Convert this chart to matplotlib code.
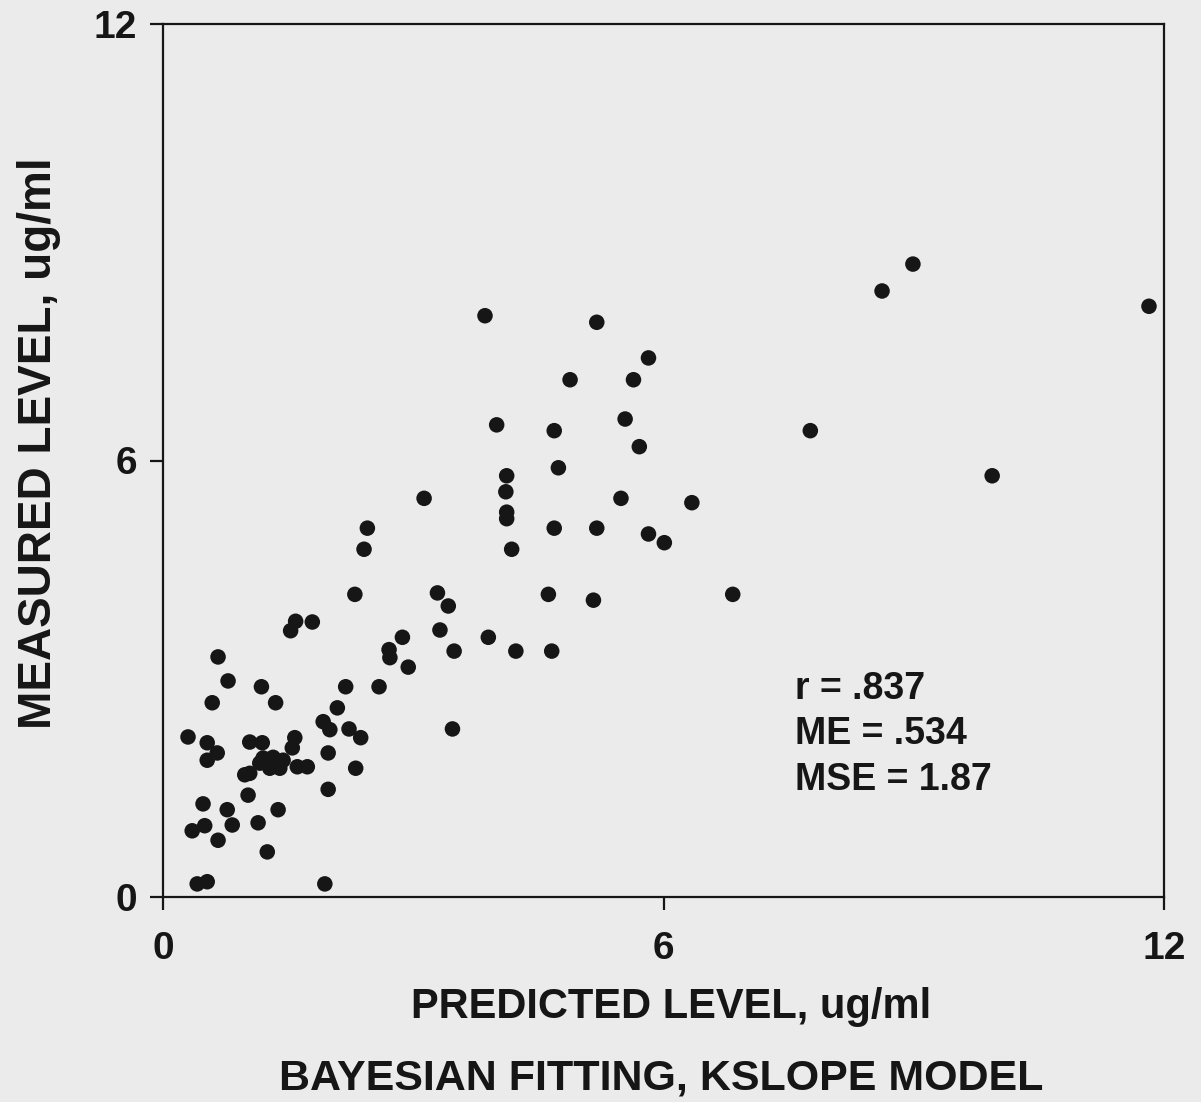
import matplotlib
matplotlib.use("Agg")
import matplotlib.pyplot as plt

plt.rcParams['font.family'] = ['Liberation Sans', 'DejaVu Sans']

# Predicted (x) and measured (y) levels, ug/ml
predicted = [
    3.86, 5.20, 5.82, 4.88, 5.64, 5.54, 4.00, 4.69, 5.71, 4.74,
    4.12, 4.11, 4.12, 4.12, 3.13, 5.49, 6.34, 2.45, 2.41, 4.69,
    5.20, 5.82, 6.01, 4.18, 2.30, 3.29, 3.42, 4.62, 5.16, 6.83,
    3.32, 2.87, 2.71, 2.72, 3.90, 3.49, 4.23, 4.66, 2.94, 1.79,
    1.59, 1.53, 8.62, 8.99, 11.82, 7.76, 9.94,
    0.66, 0.78, 0.59, 1.18, 1.35, 2.19, 2.59, 2.09, 1.92, 2.00,
    2.23, 2.37, 3.47, 0.30, 0.53, 0.65, 0.53, 1.98, 2.31, 1.98,
    1.04, 1.19, 1.58, 1.55, 1.32, 1.20, 1.44, 1.16, 1.73, 1.61,
    1.40, 1.28, 1.04, 0.98,
    1.02, 1.38, 0.48, 0.77, 0.83, 0.50, 0.35, 0.66, 1.14, 1.25,
    0.41, 0.53, 1.94,
]
measured = [
    7.99, 7.90, 7.41, 7.11, 7.11, 6.57, 6.49, 6.41, 6.19, 5.90,
    5.79, 5.57, 5.29, 5.20, 5.48, 5.48, 5.42, 5.07, 4.78, 5.07,
    5.07, 4.99, 4.87, 4.78, 4.16, 4.18, 4.00, 4.16, 4.08, 4.16,
    3.67, 3.57, 3.40, 3.29, 3.57, 3.38, 3.38, 3.38, 3.16, 3.78,
    3.79, 3.66, 8.33, 8.70, 8.12, 6.41, 5.79,
    3.30, 2.97, 2.67, 2.89, 2.67, 2.89, 2.89, 2.60, 2.41, 2.30,
    2.31, 2.19, 2.31, 2.20, 2.12, 1.98, 1.88, 1.98, 1.77, 1.48,
    2.13, 2.12, 2.19, 2.05, 1.92, 1.91, 1.88, 1.84, 1.79, 1.79,
    1.77, 1.77, 1.70, 1.68,
    1.40, 1.20, 1.28, 1.20, 0.99, 0.98, 0.91, 0.78, 1.02, 0.62,
    0.18, 0.21, 0.18,
]

ticks = [0, 6, 12]
xtick_labels = ["0", "6", "12"]
ytick_labels = ["0", "6", "12"]
stats = ["r = .837", "ME = .534", "MSE = 1.87"]

bg = '#ebebeb'
ink = '#161616'
fig = plt.figure(figsize=(12.01, 11.02), dpi=100, facecolor=bg)
ax = fig.add_axes([163/1201, 1 - 897/1102, (1164 - 163)/1201, (897 - 24)/1102])
ax.set_facecolor(bg)

ax.scatter(predicted, measured, s=125, color=ink, edgecolors='none', zorder=3)

ax.set_xlim(0, 12)
ax.set_ylim(0, 12)
ax.set_xticks(ticks)
ax.set_yticks(ticks)
ax.set_xticklabels(xtick_labels)
ax.set_yticklabels(ytick_labels)
for sp in ax.spines.values():
    sp.set_linewidth(1.6)
    sp.set_color(ink)
ax.tick_params(direction='out', length=9.5, width=1.6, labelsize=28,
               colors=ink)
ax.tick_params(axis='x', pad=15)
ax.tick_params(axis='y', pad=9)
for lab in ax.get_xticklabels() + ax.get_yticklabels():
    lab.set_fontweight('bold')

ax.set_xlabel("PREDICTED LEVEL, ug/ml", fontsize=30, fontweight='bold',
              color=ink)
ax.xaxis.label.set_verticalalignment('baseline')
ax.xaxis.set_label_coords((671 - 163) / 1001, (897 - 1018) / 873)

ax.set_ylabel("MEASURED LEVEL, ug/ml", fontsize=33, fontweight='bold',
              color=ink)
ax.yaxis.label.set_verticalalignment('baseline')
ax.yaxis.set_label_coords((51 - 163) / 1001, (897 - 443) / 873)

for i, t in enumerate(stats):
    ax.text(7.58, (897 - 699 - i * 45.5) / 72.75, t, fontsize=27,
            fontweight='bold', ha='left', va='baseline', color=ink)

fig.text(661/1201, 1 - 1090/1102, "BAYESIAN FITTING, KSLOPE MODEL",
         fontsize=31, fontweight='bold', ha='center', va='baseline',
         color=ink)

fig.savefig("out.png", dpi=100, facecolor=bg)
